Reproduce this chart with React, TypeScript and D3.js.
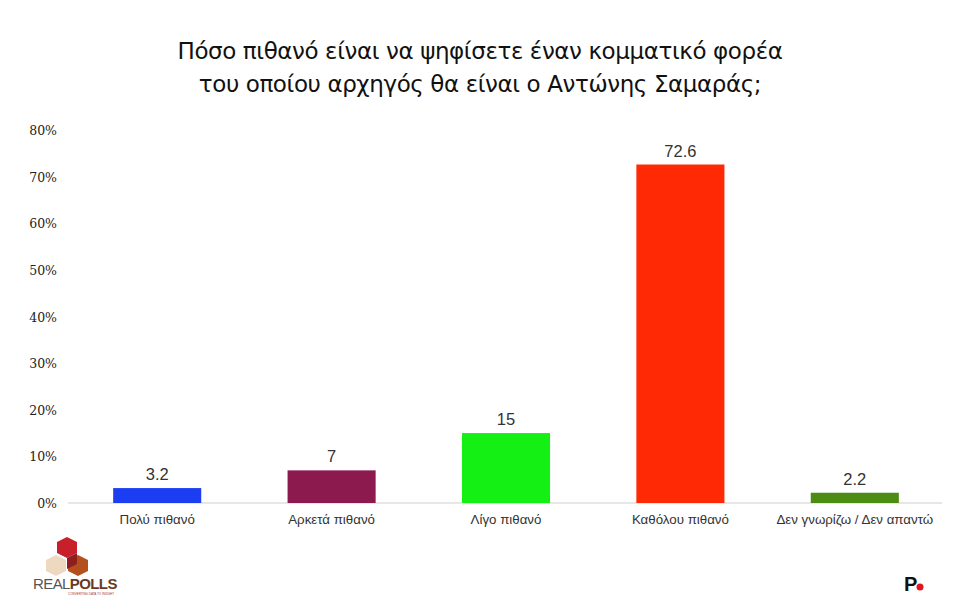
import React from "react";
import * as d3 from "d3";

const categories = ["Πολύ πιθανό", "Αρκετά πιθανό", "Λίγο πιθανό", "Καθόλου πιθανό", "Δεν γνωρίζω / Δεν απαντώ"];
const values = [3.2, 7, 15, 72.6, 2.2];
const valueLabels = ["3.2", "7", "15", "72.6", "2.2"];
const barColors = ["#1c3ef2", "#8c1a4f", "#14f014", "#ff2a05", "#4c8c14"];
const yTicks = [0, 10, 20, 30, 40, 50, 60, 70, 80];
const titleLines = [
  "Πόσο πιθανό είναι να ψηφίσετε έναν κομματικό φορέα",
  "του οποίου αρχηγός θα είναι ο Αντώνης Σαμαράς;",
];

export default function App() {
  const W = 960, H = 612;
  const x = d3.scaleBand<string>().domain(categories).range([70, 942]).paddingInner(0.495).paddingOuter(0.2475);
  const y = d3.scaleLinear().domain([0, 80]).range([503, 130]);
  return (
    <svg width={W} height={H} style={{ position: "absolute", left: 0, top: 0, background: "#fff" }}>
      <rect width={W} height={H} fill="#fff" />
      {titleLines.map((t, i) => (
        <text key={i} x={480} y={59 + i * 33} textAnchor="middle" fontFamily="'DejaVu Sans', sans-serif" fontSize={23} fill="#111" letterSpacing={-0.4}>{t}</text>
      ))}
      {yTicks.map((t) => (
        <text key={t} x={57} y={y(t) + 5} textAnchor="end" fontFamily="'DejaVu Serif', Georgia, serif" fontSize={12.5} fill="#222">{t}%</text>
      ))}
      <line x1={68} x2={942} y1={y(0)} y2={y(0)} stroke="#cfcfcf" strokeWidth={1} />
      {categories.map((c, i) => {
        const bx = x(c)!;
        const bw = x.bandwidth();
        return (
          <g key={c}>
            <rect x={bx} y={y(values[i])} width={bw} height={y(0) - y(values[i])} fill={barColors[i]} />
            <text x={bx + bw / 2} y={y(values[i]) - 8} textAnchor="middle" fontFamily="'Liberation Sans', Arial, sans-serif" fontSize={16.5} fill="#333">{valueLabels[i]}</text>
            <text x={bx + bw / 2} y={y(0) + 21} textAnchor="middle" fontFamily="'Liberation Sans', Arial, sans-serif" fontSize={13.3} fill="#333">{c}</text>
          </g>
        );
      })}
      {/* REALPOLLS logo */}
      <g>
        <polygon points="67,537 77,542 77,553 67,558 57,553 57,542" fill="#c8202a" />
        <polygon points="56,555 66,560 66,571 56,576 46,571 46,560" fill="#ecd9c0" />
        <polygon points="78,555 88,560 88,571 78,576 68,571 68,560" fill="#b4501e" />
        <polygon points="67,558 77,553 77,564 67,569" fill="#8e1e20" />
        <text x={33} y={589} fontFamily="'Liberation Sans', Arial, sans-serif" fontSize={15} fill="#555" letterSpacing={-0.6}>REAL<tspan fill="#6b3a20" fontWeight="bold">POLLS</tspan></text>
        <text x={68} y={595} fontFamily="'Liberation Sans', Arial, sans-serif" fontSize={3} fill="#a33">CONVERTING DATA TO INSIGHT</text>
      </g>
      {/* P. logo */}
      <text x={904} y={591} fontFamily="'Liberation Sans', Arial, sans-serif" fontWeight="bold" fontSize={20} fill="#111">P</text>
      <circle cx={920} cy={587} r={3.5} fill="#e2141e" />
    </svg>
  );
}
